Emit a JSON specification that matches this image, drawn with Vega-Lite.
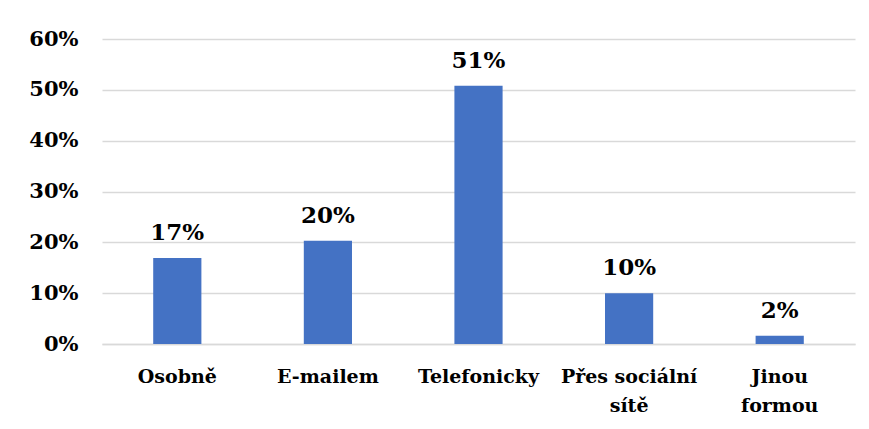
{
  "$schema": "https://vega.github.io/schema/vega-lite/v6.json",
  "autosize": "none",
  "width": 753,
  "height": 305,
  "padding": {"left": 102, "top": 39, "right": 14, "bottom": 85},
  "background": "white",
  "config": {"view": {"stroke": null}, "font": "DejaVu Serif"},
  "data": {"values": [
    {"kategorie": "Osobně", "podil": 0.169},
    {"kategorie": "E-mailem", "podil": 0.203},
    {"kategorie": "Telefonicky", "podil": 0.508},
    {"kategorie": "Přes sociální sítě", "podil": 0.100},
    {"kategorie": "Jinou formou", "podil": 0.016}
  ]},
  "encoding": {
    "x": {"field": "kategorie", "type": "nominal", "sort": null,
      "scale": {"paddingInner": 0.68, "paddingOuter": 0.34},
      "axis": {"title": null, "labelAngle": 0, "ticks": false, "domainColor": "#d9d9d9", "domainWidth": 1.5,
        "labelFont": "DejaVu Serif", "labelFontWeight": "bold", "labelFontSize": 19, "labelColor": "black",
        "labelPadding": 23, "labelLineHeight": 29, "labelLimit": 300,
        "labelExpr": "datum.label == 'Přes sociální sítě' ? ['Přes sociální', 'sítě'] : datum.label == 'Jinou formou' ? ['Jinou', 'formou'] : datum.label"}},
    "y": {"field": "podil", "type": "quantitative",
      "scale": {"domain": [0, 0.6]},
      "axis": {"title": null, "format": ".0%", "values": [0, 0.1, 0.2, 0.3, 0.4, 0.5, 0.6], "domain": false, "ticks": false,
        "gridColor": "#d9d9d9", "gridWidth": 1.5,
        "labelFont": "DejaVu Serif", "labelFontWeight": "bold", "labelFontSize": 21, "labelColor": "black",
        "labelPadding": 24}}
  },
  "layer": [
    {"mark": {"type": "bar", "color": "#4472C4"}},
    {"mark": {"type": "text", "baseline": "alphabetic", "dy": -18, "font": "DejaVu Serif", "fontWeight": "bold", "fontSize": 23, "color": "black"},
     "encoding": {"text": {"field": "podil", "type": "quantitative", "format": ".0%"}}}
  ]
}
